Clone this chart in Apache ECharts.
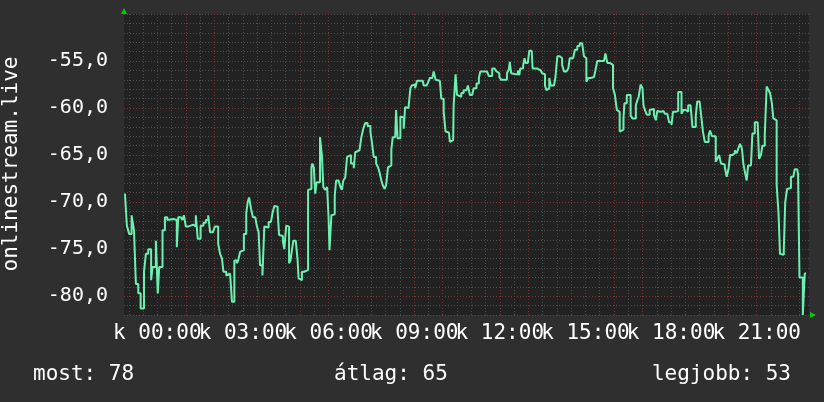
<!DOCTYPE html>
<html>
<head>
<meta charset="utf-8">
<script src="https://cdn.jsdelivr.net/npm/echarts@6/dist/echarts.min.js"></script>
<style>
html,body{margin:0;padding:0;background:#2f2f2f;}
#chart{width:824px;height:402px;}
</style>
</head>
<body>
<div id="chart"></div>
<script>
// minutes relative to 00:00 of the shown day
var minutes = [-68,-64,-60,-59,-54,-50,-49,-45,-40,-35,-31,-28,-24,-19,-15,-13,-10,-6,-3,1,4,8,11,16,21,25,34,37,41,44,49,53,56,60,65,70,76,81,85,88,91,97,102,107,111,117,121,125,128,132,136,139,145,149,153,157,160,162,167,170,174,178,182,187,190,193,197,201,206,209,213,216,221,225,229,234,239,242,246,250,253,256,260,264,267,271,274,277,280,283,286,291,295,297,300,304,309,313,317,320,324,326,329,332,335,339,342,346,349,353,357,360,362,366,369,373,376,381,385,388,391,395,399,403,407,410,413,416,420,425,429,433,437,442,448,451,455,460,464,467,471,474,478,481,485,488,492,495,500,502,505,509,511,514,518,521,525,528,532,535,539,542,546,553,558,560,566,569,573,578,581,585,589,594,597,602,606,609,613,615,618,622,623,627,630,634,639,644,650,653,657,662,665,671,676,679,686,693,697,700,704,709,713,716,719,723,728,732,735,739,741,744,748,753,758,761,763,769,772,774,779,782,787,789,794,799,802,806,809,812,815,818,822,824,827,830,834,837,841,846,848,851,855,860,864,867,871,874,878,883,888,893,897,900,902,906,911,918,921,925,932,939,942,946,951,955,958,962,966,969,972,976,980,982,987,991,995,999,1002,1006,1009,1012,1016,1020,1022,1025,1029,1032,1035,1039,1044,1048,1051,1055,1058,1064,1067,1072,1076,1081,1084,1090,1095,1099,1102,1106,1111,1116,1121,1125,1128,1132,1135,1140,1144,1147,1151,1155,1159,1162,1166,1170,1174,1178,1181,1185,1189,1193,1197,1201,1204,1209,1214,1218,1222,1225,1229,1232,1236,1239,1242,1248,1251,1256,1262,1265,1269,1272,1277,1281,1285,1288,1292,1295,1299,1302,1306,1309,1313,1317,1320,1324,1328,1332,1337,1340,1345,1347,1350,1354,1357,1360,1361,1364];
var signal = [-69.1,-72.5,-72.5,-73.4,-71.4,-71.5,-73.0,-78.7,-79.7,-81.3,-81.3,-77.4,-75.5,-75.0,-75.0,-78.3,-76.9,-76.9,-74.1,-79.7,-76.9,-76.9,-73.0,-71.6,-71.9,-71.8,-71.9,-71.9,-74.8,-71.6,-71.8,-71.9,-71.4,-72.6,-72.5,-72.4,-72.6,-71.4,-73.9,-73.9,-72.5,-72.2,-71.9,-71.4,-73.2,-73.2,-72.6,-72.6,-74.4,-75.5,-76.0,-77.4,-77.8,-77.6,-77.8,-80.6,-80.6,-76.2,-76.5,-76.2,-75.3,-75.1,-73.4,-71.2,-70.0,-69.5,-70.7,-71.6,-71.6,-72.5,-73.2,-76.7,-77.8,-72.6,-72.7,-72.1,-72.0,-71.2,-70.4,-70.5,-71.0,-73.5,-73.6,-74.2,-75.0,-72.5,-72.6,-76.5,-76.2,-75.1,-74.1,-74.1,-76.2,-78.1,-78.3,-77.4,-77.3,-77.2,-68.7,-68.6,-66.3,-65.9,-66.3,-69.1,-67.9,-67.9,-63.1,-65.0,-68.4,-68.7,-68.4,-71.6,-75.1,-71.4,-71.3,-69.3,-67.7,-67.7,-68.4,-68.7,-67.7,-67.4,-65.2,-65.0,-65.9,-65.9,-66.4,-64.7,-64.5,-64.3,-63.1,-62.2,-61.6,-61.9,-62.5,-63.6,-65.2,-65.9,-66.3,-66.8,-67.7,-68.2,-68.6,-68.2,-66.3,-66.1,-64.4,-63.1,-63.1,-60.2,-63.2,-63.2,-60.9,-61.0,-62.2,-59.9,-60.0,-60.1,-57.9,-57.6,-57.5,-57.9,-57.1,-57.1,-57.1,-57.6,-57.5,-57.3,-56.8,-56.7,-56.1,-57.0,-57.1,-57.2,-59.0,-60.4,-62.5,-62.6,-62.7,-63.6,-63.4,-63.4,-59.7,-56.4,-58.6,-58.8,-58.4,-58.1,-57.9,-57.6,-58.6,-58.6,-57.9,-57.4,-56.8,-56.1,-56.1,-56.1,-56.6,-56.6,-55.8,-55.8,-56.1,-56.3,-56.7,-57.0,-57.1,-57.0,-56.3,-55.9,-55.1,-56.3,-56.4,-56.4,-56.0,-56.5,-55.8,-55.5,-54.7,-55.2,-55.2,-53.9,-54.0,-55.8,-55.8,-55.6,-56.0,-56.0,-56.3,-56.4,-57.6,-58.1,-57.9,-56.8,-57.6,-57.6,-57.4,-56.7,-54.5,-54.6,-54.7,-55.4,-56.1,-56.2,-55.8,-54.7,-54.7,-54.5,-53.8,-53.4,-53.1,-53.0,-54.5,-54.7,-57.2,-56.8,-56.7,-56.7,-56.0,-55.0,-55.0,-55.0,-54.2,-55.2,-55.2,-55.4,-57.9,-58.6,-60.2,-60.4,-62.5,-62.3,-61.1,-59.5,-58.6,-58.6,-60.8,-61.1,-61.1,-59.7,-59.2,-58.8,-57.5,-57.9,-59.7,-60.2,-60.7,-60.7,-60.2,-60.1,-60.7,-61.3,-60.3,-60.4,-60.3,-60.1,-60.6,-60.6,-61.5,-61.8,-60.4,-60.3,-58.3,-58.3,-60.6,-60.2,-60.4,-59.7,-59.5,-62.0,-62.0,-60.8,-59.3,-59.3,-61.1,-62.5,-63.6,-63.6,-62.9,-62.4,-63.0,-63.0,-65.7,-65.3,-65.0,-65.9,-66.0,-66.3,-67.3,-66.4,-65.0,-64.8,-64.5,-64.8,-64.2,-63.8,-64.3,-65.9,-67.0,-67.7,-66.1,-65.9,-62.7,-61.5,-61.6,-65.4,-65.0,-64.0,-62.9,-57.7,-58.1,-58.4,-59.5,-61.1,-61.3,-68.2,-71.2,-75.5,-75.6,-75.1,-70.0,-68.6,-68.5,-67.3,-67.3,-66.5,-66.6,-67.0,-78.0,-78.0,-82.0,-82.0,-77.6,-77.6];
var xMin = -70, xMax = 1370;
var yMin = -82, yMax = -50;
var labelMinutes = [0, 180, 360, 540, 720, 900, 1080, 1260];
var labelTexts = ['k 00:00','k 03:00','k 06:00','k 09:00','k 12:00','k 15:00','k 18:00','k 21:00'];
var majorY = [-80, -75, -70, -65, -60, -55];
var seriesName = 'onlinestream.live';
var statsTexts = ['most: 78', 'átlag: 65', 'legjobb: 53'];

var hourLines = [], halfLines = [];
for (var m = -60; m < xMax; m += 60) hourLines.push(m);
for (var m2 = -30; m2 < xMax; m2 += 60) halfLines.push(m2);

var gray = '#4e4e4e', red = '#7a3434';
var markData = [];
halfLines.forEach(function (v) { markData.push({xAxis: v, lineStyle: {color: gray}}); });
hourLines.forEach(function (v) { markData.push({xAxis: v, lineStyle: {color: red}}); });
majorY.forEach(function (v) { markData.push({yAxis: v, lineStyle: {color: red}}); });

var data = minutes.map(function (m, i) { return [m, signal[i]]; });
var font = 'DejaVu Sans Mono';

var chart = echarts.init(document.getElementById('chart'), null, {renderer: 'canvas'});
chart.setOption({
  backgroundColor: '#2f2f2f',
  animation: false,
  grid: {left: 124, right: 15, top: 14, bottom: 87, show: true, backgroundColor: '#222222', borderWidth: 0},
  xAxis: {
    type: 'value', min: xMin, max: xMax, interval: 10,
    axisLine: {show: false}, axisTick: {show: false}, splitLine: {show: false},
    axisLabel: {
      color: '#ffffff', fontFamily: font, fontSize: 21, margin: 8,
      formatter: function (v) { var i = labelMinutes.indexOf(v); return i >= 0 ? labelTexts[i] : ''; }
    }
  },
  yAxis: {
    type: 'value', min: yMin, max: yMax, interval: 1,
    axisLine: {show: false}, axisTick: {show: false},
    splitLine: {show: true, lineStyle: {color: gray, type: [1, 2], width: 1}},
    axisLabel: {
      color: '#ffffff', fontFamily: font, fontSize: 20, margin: 16,
      formatter: function (v) { return (v % 5 === 0 && v > yMin && v < yMax) ? (v.toFixed(1).replace('.', ',')) : ''; }
    }
  },
  graphic: [
    {type: 'text', x: 12, y: 164, rotation: Math.PI / 2,
     style: {text: seriesName, fill: '#ffffff', font: '21px "DejaVu Sans Mono"', textAlign: 'center', textVerticalAlign: 'middle'}},
    {type: 'text', x: 33, y: 375, style: {text: statsTexts[0], fill: '#ffffff', font: '21px "DejaVu Sans Mono"', textAlign: 'left', textVerticalAlign: 'middle'}},
    {type: 'text', x: 334, y: 375, style: {text: statsTexts[1], fill: '#ffffff', font: '21px "DejaVu Sans Mono"', textAlign: 'left', textVerticalAlign: 'middle'}},
    {type: 'text', x: 791, y: 375, style: {text: statsTexts[2], fill: '#ffffff', font: '21px "DejaVu Sans Mono"', textAlign: 'right', textVerticalAlign: 'middle'}},
    {type: 'polygon', shape: {points: [[121, 14], [127, 14], [124, 8]]}, style: {fill: '#00cc00'}},
    {type: 'polygon', shape: {points: [[810, 312], [810, 318], [816, 315]]}, style: {fill: '#00cc00'}}
  ],
  series: [
    {
      type: 'line', data: [], z: 1, silent: true,
      markLine: {silent: true, symbol: ['none', 'none'], label: {show: false},
        lineStyle: {type: [1, 2], width: 1}, data: markData, animation: false}
    },
    {
      name: seriesName, type: 'line', data: data, z: 5, showSymbol: false, clip: true, step: 'end',
      lineStyle: {color: '#6cf0b2', width: 2}, itemStyle: {color: '#6cf0b2'}
    }
  ]
});
</script>
</body>
</html>
